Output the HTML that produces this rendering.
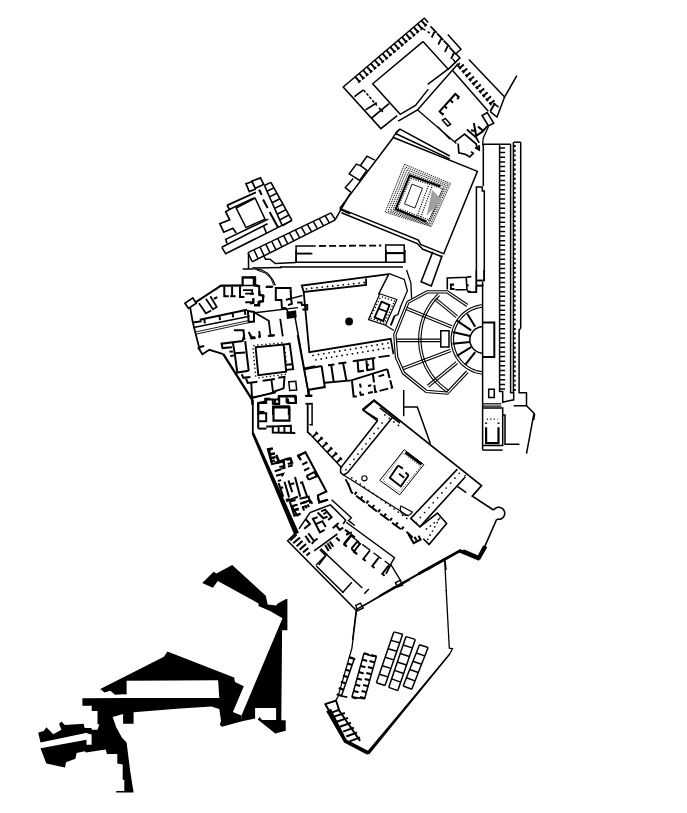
<!DOCTYPE html>
<html><head><meta charset="utf-8"><title>Plan</title>
<style>html,body{margin:0;padding:0;background:#fff;overflow:hidden}svg{display:block}</style>
</head><body>
<svg width="687" height="813" viewBox="0 0 687 813">
<rect width="687" height="813" fill="#fff"/>
<g stroke-linecap="butt" stroke-linejoin="miter">
<g fill="#000" stroke="none">
<path d="M202.2,582.9 L213.6,571.8 L216.4,573.6 L232.2,565.1 L265.8,595.8 L267.7,604.5 L276,605.4 L277.8,603.5 L286.1,598.9 L287.4,598.9 L287.4,630.3 L282.1,630.3 L281.3,720.3 L285.7,720.3 L285.7,730.8 L275.2,733.4 L257.7,719.5 L259.5,716.9 L262.1,720 L276.1,720 L276.1,708.1 L255.1,708.1 L255.1,718.6 L242,721.2 L241.5,715.5 L282.5,618.3 L270,611 L258.5,606 L258.5,603.5 L217.8,581 L212.9,587.8 Z"/>
<path fill-rule="evenodd" d="M167.4,651.6 L234.1,677.6 L235,681.9 L243.8,686.3 L232.9,712 L241.5,715.5 L242,721.2 L221.9,726.8 L219.8,724.7 L221,720.7 L219.3,709 L211.4,706.4 L180,708.5 L133.6,712.2 L133.6,723.8 L123.1,723.8 L123.1,714.1 L112.7,716.9 L116.2,727.3 L122,737.8 L126.6,742.5 L130.1,770.4 L133.6,792.5 L116.2,792.5 L116.2,790.9 L124.3,790.9 L124.3,779.7 L122.7,779.7 L122.7,764.6 L117.3,763.4 L117.3,754.1 L106.9,754.1 L105.7,749.5 L85.9,752.5 L84.7,751.3 L76.6,753 L75.4,758.8 L66.1,762.3 L64.9,767.6 L46.3,763.4 L40.5,748.3 L86.5,739.7 L86.5,744.8 L91.6,744.8 L91.6,734.4 L87.5,733.6 L87.1,732.7 L40.5,742.5 L38.2,732.7 L44,730.8 L46.3,727.3 L53.3,734.3 L61.4,729.7 L59.1,723.8 L61.4,721.5 L64.9,725 L83.6,723.8 L84.7,728 L91.7,728 L91.7,729.7 L97.5,729.7 L99.4,724.3 L97.5,724.3 L97.5,711 L91.7,711 L91.7,705.7 L82.4,705.7 L82.4,698.2 L126.6,698 L126.6,694 L115,694.7 L110.3,690.8 L104.5,692.4 L100.3,688.9 L163.9,656.8 Z M126.6,680.8 L218.1,680.3 L219.3,698 L126.6,698 Z"/>
</g>
<polyline points="424.7,17.7 343.2,87.0 380.9,128.6 397.2,115.6" fill="none" stroke="#000" stroke-width="1.50"/>
<polyline points="423.0,41.6 372.7,83.8 400.2,114.3 415.5,105.4 428.3,89.1" fill="none" stroke="#000" stroke-width="1.50"/>
<polyline points="423.0,41.6 448.1,69.1 427.7,84.4" fill="none" stroke="#000" stroke-width="1.50"/>
<polyline points="458.3,63.4 417.5,109.9 398.2,121.1" fill="none" stroke="#000" stroke-width="1.50"/>
<path d="M355.4,76.8 L359.4,81.6 M358.2,82.6 L360.6,80.5 M359.3,73.5 L363.3,78.3 M362.1,79.3 L364.5,77.2 M363.2,70.2 L367.2,75.0 M366.0,76.0 L368.4,73.9 M367.1,66.9 L371.1,71.6 M369.9,72.7 L372.3,70.6 M371.0,63.6 L375.0,68.3 M373.8,69.4 L376.2,67.3 M374.9,60.3 L378.9,65.0 M377.7,66.1 L380.1,64.0 M378.8,57.0 L382.8,61.7 M381.5,62.8 L384.0,60.7 M382.6,53.7 L386.7,58.4 M385.4,59.4 L387.9,57.4 M386.5,50.4 L390.6,55.1 M389.3,56.1 L391.8,54.1 M390.4,47.1 L394.5,51.8 M393.2,52.8 L395.7,50.8 M394.3,43.8 L398.4,48.5 M397.1,49.5 L399.6,47.4 M398.2,40.4 L402.2,45.2 M401.0,46.2 L403.5,44.1 M402.1,37.1 L406.1,41.9 M404.9,42.9 L407.4,40.8 M406.0,33.8 L410.0,38.6 M408.8,39.6 L411.3,37.5 M409.9,30.5 L413.9,35.2 M412.7,36.3 L415.2,34.2 M413.8,27.2 L417.8,31.9 M416.6,33.0 L419.0,30.9 M417.7,23.9 L421.7,28.6 M420.5,29.7 L422.9,27.6 M421.6,20.6 L425.6,25.3 M424.4,26.4 L426.8,24.3" fill="none" stroke="#000" stroke-width="1.90"/>
<polyline points="354.4,96.6 363.5,89.9" fill="none" stroke="#000" stroke-width="1.70"/>
<polyline points="363.5,89.9 376.8,105.4" fill="none" stroke="#000" stroke-width="1.50" stroke-dasharray="3,1.5"/>
<polyline points="365.6,109.9 376.8,102.7" fill="none" stroke="#000" stroke-width="1.70"/>
<polyline points="371.7,118.0 389.0,103.7" fill="none" stroke="#000" stroke-width="1.70"/>
<polyline points="378.8,107.8 382.9,111.9" fill="none" stroke="#000" stroke-width="1.50"/>
<polyline points="424.4,18.2 428.2,22.4" fill="none" stroke="#000" stroke-width="1.50"/>
<polyline points="422.8,28.9 425.4,30.1" fill="none" stroke="#000" stroke-width="1.50"/>
<polyline points="427.6,31.7 429.7,33.0" fill="none" stroke="#000" stroke-width="1.50"/>
<polyline points="430.5,26.3 436.8,32.9" fill="none" stroke="#000" stroke-width="1.80"/>
<polyline points="434.5,31.6 431.7,37.5" fill="none" stroke="#000" stroke-width="1.80"/>
<polyline points="437.1,33.4 443.4,40.1" fill="none" stroke="#000" stroke-width="1.80"/>
<polyline points="441.2,38.7 438.3,44.6" fill="none" stroke="#000" stroke-width="1.80"/>
<polyline points="443.7,40.6 450.0,47.2" fill="none" stroke="#000" stroke-width="1.80"/>
<polyline points="447.8,45.9 444.9,51.8" fill="none" stroke="#000" stroke-width="1.80"/>
<polyline points="449.8,47.7 456.1,54.3" fill="none" stroke="#000" stroke-width="1.80"/>
<polyline points="453.9,53.0 451.1,58.9" fill="none" stroke="#000" stroke-width="1.80"/>
<polyline points="447.8,34.5 461.0,49.2 455.9,53.8 460.0,57.9 447.8,69.6" fill="none" stroke="#000" stroke-width="1.50"/>
<polyline points="452.7,58.9 455.9,63.0" fill="none" stroke="#000" stroke-width="1.50"/>
<polyline points="468.9,59.4 504.6,97.1 516.8,75.7" fill="none" stroke="#000" stroke-width="1.50"/>
<polyline points="504.6,97.1 497.0,117.0 490.3,111.7" fill="none" stroke="#000" stroke-width="1.50"/>
<polyline points="452.6,70.6 488.3,111.3" fill="none" stroke="#000" stroke-width="1.50"/>
<polyline points="459.7,62.8 457.7,66.9" fill="none" stroke="#000" stroke-width="1.50"/>
<path d="M463.8,64.5 L459.8,67.9 M458.7,66.7 L460.8,69.1 M467.2,68.4 L463.2,71.9 M462.1,70.7 L464.2,73.1 M470.6,72.4 L466.6,75.9 M465.5,74.6 L467.6,77.1 M474.0,76.4 L470.0,79.8 M468.9,78.6 L471.0,81.1 M477.4,80.4 L473.4,83.8 M472.3,82.6 L474.4,85.1 M480.8,84.4 L476.8,87.8 M475.7,86.6 L477.8,89.0 M484.2,88.4 L480.2,91.8 M479.1,90.6 L481.2,93.0 M487.6,92.3 L483.6,95.8 M482.5,94.6 L484.6,97.0 M491.0,96.3 L487.0,99.8 M485.9,98.6 L488.0,101.0 M494.4,100.3 L490.3,103.8 M489.3,102.5 L491.4,105.0" fill="none" stroke="#000" stroke-width="2.00"/>
<polyline points="493.4,103.2 498.5,107.2" fill="none" stroke="#000" stroke-width="1.50"/>
<polyline points="443.6,113.2 442.5,114.4 439.6,111.4 455.3,94.0 458.8,96.9 457.3,99.2" fill="none" stroke="#000" stroke-width="2.00"/>
<polyline points="444.4,105.9 446.9,108.5" fill="none" stroke="#000" stroke-width="2.00"/>
<polyline points="450.0,99.8 452.9,102.7" fill="none" stroke="#000" stroke-width="2.00"/>
<polygon points="442.5,120.2 445.4,118.4 450.6,124.3 447.7,126.0" fill="none" stroke="#000" stroke-width="1.50"/>
<polygon points="482.1,115.5 487.3,112.6 493.7,123.1 488.5,126.0" fill="none" stroke="#000" stroke-width="1.60"/>
<polyline points="437.8,126.6 450.0,139.4" fill="none" stroke="#000" stroke-width="1.30"/>
<polyline points="417.4,109.7 456.4,143.5" fill="none" stroke="#000" stroke-width="1.30"/>
<polyline points="466.9,129.5 476.2,137.6 479.1,142.9" fill="none" stroke="#000" stroke-width="1.80"/>
<polyline points="473.9,123.1 476.2,135.9 483.2,131.2" fill="none" stroke="#000" stroke-width="2.00"/>
<polyline points="471.0,130.3 476.2,131.2" fill="none" stroke="#000" stroke-width="2.00"/>
<polyline points="478.0,126.6 483.2,130.7 487.9,125.6" fill="none" stroke="#000" stroke-width="2.00"/>
<polyline points="488.5,126.6 483.2,138.2 482.6,145.2" fill="none" stroke="#000" stroke-width="1.30"/>
<polyline points="454.7,141.7 464.6,134.1 476.2,144.0 477.4,148.7" fill="none" stroke="#000" stroke-width="1.70"/>
<polyline points="458.2,143.5 458.8,152.8 465.8,154.5 469.8,156.9 473.3,153.4 471.0,151.6" fill="none" stroke="#000" stroke-width="1.70"/>
<polyline points="475.1,147.5 479.1,149.9 479.1,145.2" fill="none" stroke="#000" stroke-width="1.90"/>
<polyline points="494.9,103.3 490.2,111.4" fill="none" stroke="#000" stroke-width="1.90"/>
<polyline points="483.3,186.1 483.3,144.2 510.8,144.2" fill="none" stroke="#000" stroke-width="1.50"/>
<polyline points="513.8,142.2 520.7,142.2" fill="none" stroke="#000" stroke-width="1.50"/>
<polyline points="476.4,289.9 476.4,187.0 482.3,187.0 482.3,191.0 484.3,191.0 484.3,280.5 476.4,280.5" fill="none" stroke="#000" stroke-width="1.50"/>
<polyline points="499.6,144.2 499.6,392.0" fill="none" stroke="#000" stroke-width="1.50"/>
<polyline points="510.6,144.2 510.6,393.0" fill="none" stroke="#000" stroke-width="1.50"/>
<polyline points="513.4,142.2 513.4,393.0" fill="none" stroke="#000" stroke-width="1.50"/>
<polyline points="520.7,142.2 520.7,328.5" fill="none" stroke="#000" stroke-width="1.50"/>
<path d="M499.6,148.0 L505.1,148.0 M499.6,152.6 L505.1,152.6 M499.6,157.3 L505.1,157.3 M499.6,161.9 L505.1,161.9 M499.6,166.5 L505.1,166.5 M499.6,171.2 L505.1,171.2 M499.6,175.8 L505.1,175.8 M499.6,180.4 L505.1,180.4 M499.6,185.1 L505.1,185.1 M499.6,189.7 L505.1,189.7 M499.6,194.3 L505.1,194.3 M499.6,199.0 L505.1,199.0 M499.6,203.6 L505.1,203.6 M499.6,208.2 L505.1,208.2 M499.6,212.9 L505.1,212.9 M499.6,217.5 L505.1,217.5 M499.6,222.2 L505.1,222.2 M499.6,226.8 L505.1,226.8 M499.6,231.4 L505.1,231.4 M499.6,236.1 L505.1,236.1 M499.6,240.7 L505.1,240.7 M499.6,245.3 L505.1,245.3 M499.6,250.0 L505.1,250.0 M499.6,254.6 L505.1,254.6 M499.6,259.2 L505.1,259.2 M499.6,263.9 L505.1,263.9 M499.6,268.5 L505.1,268.5 M499.6,273.1 L505.1,273.1 M499.6,277.8 L505.1,277.8 M499.6,282.4 L505.1,282.4 M499.6,287.0 L505.1,287.0 M499.6,291.7 L505.1,291.7 M499.6,296.3 L505.1,296.3 M499.6,300.9 L505.1,300.9 M499.6,305.6 L505.1,305.6 M499.6,310.2 L505.1,310.2 M499.6,314.8 L505.1,314.8 M499.6,319.5 L505.1,319.5 M499.6,324.1 L505.1,324.1 M499.6,328.8 L505.1,328.8 M499.6,333.4 L505.1,333.4 M499.6,338.0 L505.1,338.0 M499.6,342.7 L505.1,342.7 M499.6,347.3 L505.1,347.3 M499.6,351.9 L505.1,351.9 M499.6,356.6 L505.1,356.6 M499.6,361.2 L505.1,361.2 M499.6,365.8 L505.1,365.8 M499.6,370.5 L505.1,370.5 M499.6,375.1 L505.1,375.1 M499.6,379.7 L505.1,379.7 M499.6,384.4 L505.1,384.4 M499.6,389.0 L505.1,389.0" fill="none" stroke="#000" stroke-width="1.50"/>
<path d="M513.4,146.0 L515.7,146.0 M513.4,150.7 L515.7,150.7 M513.4,155.4 L515.7,155.4 M513.4,160.1 L515.7,160.1 M513.4,164.8 L515.7,164.8 M513.4,169.5 L515.7,169.5 M513.4,174.2 L515.7,174.2 M513.4,178.8 L515.7,178.8 M513.4,183.5 L515.7,183.5 M513.4,188.2 L515.7,188.2 M513.4,192.9 L515.7,192.9 M513.4,197.6 L515.7,197.6 M513.4,202.3 L515.7,202.3 M513.4,207.0 L515.7,207.0 M513.4,211.7 L515.7,211.7 M513.4,216.4 L515.7,216.4 M513.4,221.1 L515.7,221.1 M513.4,225.8 L515.7,225.8 M513.4,230.5 L515.7,230.5 M513.4,235.2 L515.7,235.2 M513.4,239.8 L515.7,239.8 M513.4,244.5 L515.7,244.5 M513.4,249.2 L515.7,249.2 M513.4,253.9 L515.7,253.9 M513.4,258.6 L515.7,258.6 M513.4,263.3 L515.7,263.3 M513.4,268.0 L515.7,268.0 M513.4,272.7 L515.7,272.7 M513.4,277.4 L515.7,277.4 M513.4,282.1 L515.7,282.1 M513.4,286.8 L515.7,286.8 M513.4,291.5 L515.7,291.5 M513.4,296.2 L515.7,296.2 M513.4,300.8 L515.7,300.8 M513.4,305.5 L515.7,305.5 M513.4,310.2 L515.7,310.2 M513.4,314.9 L515.7,314.9 M513.4,319.6 L515.7,319.6 M513.4,324.3 L515.7,324.3 M513.4,329.0 L515.7,329.0 M513.4,333.7 L515.7,333.7 M513.4,338.4 L515.7,338.4 M513.4,343.1 L515.7,343.1 M513.4,347.8 L515.7,347.8 M513.4,352.5 L515.7,352.5 M513.4,357.2 L515.7,357.2 M513.4,361.8 L515.7,361.8 M513.4,366.5 L515.7,366.5 M513.4,371.2 L515.7,371.2 M513.4,375.9 L515.7,375.9 M513.4,380.6 L515.7,380.6 M513.4,385.3 L515.7,385.3 M513.4,390.0 L515.7,390.0" fill="none" stroke="#000" stroke-width="1.90"/>
<polyline points="476.3,270.0 476.3,292.2 468.1,292.2" fill="none" stroke="#000" stroke-width="1.50"/>
<polyline points="484.0,270.0 484.0,280.5 476.3,280.5" fill="none" stroke="#000" stroke-width="1.50"/>
<polyline points="476.3,285.9 482.6,285.9" fill="none" stroke="#000" stroke-width="1.50"/>
<polyline points="482.6,281.7 482.6,450.1" fill="none" stroke="#000" stroke-width="1.50"/>
<polyline points="520.7,328.5 519.1,329.9 519.1,392.8 526.5,392.8 526.5,405.7 513.7,405.7" fill="none" stroke="#000" stroke-width="1.50"/>
<polyline points="526.5,405.7 534.0,413.2 526.5,453.6" fill="none" stroke="#000" stroke-width="1.50"/>
<polyline points="534.7,413.9 533.6,420.2" fill="none" stroke="#000" stroke-width="1.50"/>
<polyline points="499.6,391.6 502.7,391.6 502.7,402.2 513.7,399.8 513.7,392.8 510.2,392.8" fill="none" stroke="#000" stroke-width="1.50"/>
<polyline points="482.6,322.6 494.3,322.6 494.3,357.0 482.6,357.0" fill="none" stroke="#000" stroke-width="2.00"/>
<polygon points="488.7,389.3 494.3,389.3 494.3,397.5 488.7,397.5" fill="none" stroke="#000" stroke-width="1.50"/>
<polyline points="482.6,403.8 501.3,403.8" fill="none" stroke="#000" stroke-width="1.20"/>
<polyline points="482.6,406.1 501.3,406.1" fill="none" stroke="#000" stroke-width="1.20"/>
<polyline points="482.6,408.0 502.7,408.0 502.7,445.4 482.6,445.4" fill="none" stroke="#000" stroke-width="1.50"/>
<polyline points="486.1,427.2 486.1,443.1 498.5,443.1 498.5,427.2" fill="none" stroke="#000" stroke-width="2.20"/>
<polyline points="486.8,419.2 497.5,419.2" fill="none" stroke="#000" stroke-width="1.30" stroke-dasharray="1.2,2.2"/>
<polyline points="486.1,422.5 486.1,423.9" fill="none" stroke="#000" stroke-width="2.00"/>
<polyline points="498.5,422.5 498.5,423.9" fill="none" stroke="#000" stroke-width="2.00"/>
<polyline points="502.7,415.0 505.0,415.0 505.0,444.3 519.5,444.3" fill="none" stroke="#000" stroke-width="1.50"/>
<polyline points="482.6,450.1 502.7,450.1" fill="none" stroke="#000" stroke-width="1.50"/>
<polyline points="483.1,353.1 482.0,353.0 481.0,352.9 480.0,352.7 479.0,352.4 478.0,352.1 477.1,351.6 476.2,351.1 475.3,350.5 474.5,349.9 473.7,349.2 473.0,348.4 472.4,347.6 471.8,346.8 471.3,345.9 470.9,344.9 470.5,343.9 470.2,343.0 470.0,341.9 469.9,340.9 469.9,339.9 469.9,338.8 470.0,337.8 470.2,336.8 470.5,335.8 470.9,334.8 471.3,333.9 471.8,333.0 472.4,332.1 473.0,331.3 473.7,330.5 474.5,329.8 475.3,329.2 476.2,328.6 477.1,328.1 478.0,327.7 479.0,327.3 480.0,327.0 481.0,326.8 482.0,326.7 483.1,326.7" fill="none" stroke="#000" stroke-width="1.50"/>
<polyline points="482.4,374.2 479.8,373.8 477.3,373.3 474.9,372.5 472.5,371.6 470.2,370.6 467.9,369.3 465.8,367.9 463.8,366.3 461.8,364.6 460.1,362.8 458.4,360.8 456.9,358.8 455.6,356.6 454.4,354.3 453.4,352.0 452.6,349.5 451.9,347.1 451.5,344.5 451.2,342.0 451.1,339.4 451.2,336.9 451.5,334.3 451.9,331.8 452.6,329.3 453.4,326.9 454.4,324.6 455.6,322.3 456.9,320.1 458.4,318.0 460.1,316.1 461.8,314.2 463.8,312.5 465.8,311.0 467.9,309.6 470.2,308.3 472.5,307.2 474.9,306.3 477.3,305.6 479.8,305.0 482.4,304.7" fill="none" stroke="#000" stroke-width="1.15"/>
<polyline points="482.6,371.7 480.3,371.4 477.9,370.9 475.7,370.2 473.4,369.4 471.3,368.4 469.2,367.2 467.2,365.9 465.3,364.5 463.5,362.9 461.9,361.2 460.4,359.3 459.0,357.4 457.7,355.4 456.6,353.3 455.7,351.1 454.9,348.8 454.3,346.5 453.9,344.2 453.6,341.8 453.5,339.4 453.6,337.1 453.9,334.7 454.3,332.3 454.9,330.0 455.7,327.8 456.6,325.6 457.7,323.5 459.0,321.5 460.4,319.5 461.9,317.7 463.5,316.0 465.3,314.4 467.2,312.9 469.2,311.6 471.3,310.5 473.4,309.5 475.7,308.6 477.9,308.0 480.3,307.5 482.6,307.1" fill="none" stroke="#000" stroke-width="1.15"/>
<polyline points="447.4,392.4 445.0,390.8 442.8,389.1 440.6,387.3 438.5,385.4 436.4,383.4 434.5,381.3 432.7,379.1 430.9,376.9 429.3,374.5 427.8,372.1 426.4,369.7 425.1,367.2 423.9,364.6 422.8,362.0 421.8,359.3 421.0,356.6 420.3,353.8 419.7,351.0 419.2,348.2 418.9,345.4 418.7,342.6 418.6,339.7 418.7,336.9 418.8,334.1 419.1,331.2 419.6,328.4 420.1,325.6 420.8,322.9 421.6,320.1 422.5,317.5 423.6,314.8 424.7,312.2 426.0,309.7 427.4,307.2 428.9,304.8 430.5,302.4 432.2,300.2 434.0,298.0 435.9,295.9 437.9,293.9" fill="none" stroke="#000" stroke-width="1.10"/>
<polyline points="448.7,390.3 446.5,388.8 444.3,387.1 442.2,385.4 440.1,383.6 438.2,381.7 436.3,379.7 434.6,377.6 432.9,375.4 431.3,373.2 429.9,370.9 428.5,368.5 427.2,366.1 426.1,363.6 425.1,361.1 424.1,358.5 423.3,355.9 422.7,353.3 422.1,350.6 421.7,347.9 421.3,345.2 421.1,342.4 421.0,339.7 421.1,337.0 421.3,334.3 421.6,331.5 422.0,328.8 422.5,326.2 423.1,323.5 423.9,320.9 424.8,318.3 425.8,315.8 426.9,313.3 428.2,310.8 429.5,308.4 430.9,306.1 432.5,303.9 434.1,301.7 435.9,299.6 437.7,297.6 439.6,295.6" fill="none" stroke="#000" stroke-width="1.10"/>
<polyline points="466.7,306.5 446.9,293.0 427.5,293.0 408.8,303.1 396.0,334.8 397.8,357.0 404.5,372.3 426.7,390.3 446.8,392.0 466.5,371.0" fill="none" stroke="#000" stroke-width="1.10"/><polyline points="468.0,304.5 447.6,290.7 426.9,290.7 407.1,301.5 393.7,334.4 395.4,357.6 402.6,373.8 425.8,392.5 447.7,394.3 468.2,372.7" fill="none" stroke="#000" stroke-width="1.10"/>
<polyline points="396.6,339.1 440.3,339.1" fill="none" stroke="#000" stroke-width="1.10"/><polyline points="396.6,341.6 440.3,341.6" fill="none" stroke="#000" stroke-width="1.10"/>
<polyline points="406.7,307.3 452.1,325.7" fill="none" stroke="#000" stroke-width="1.10"/><polyline points="405.8,309.5 451.2,327.9" fill="none" stroke="#000" stroke-width="1.10"/>
<polyline points="435.8,297.9 457.6,315.9" fill="none" stroke="#000" stroke-width="1.10"/><polyline points="434.3,299.7 456.1,317.7" fill="none" stroke="#000" stroke-width="1.10"/>
<polyline points="402.3,367.6 450.3,349.2" fill="none" stroke="#000" stroke-width="1.10"/><polyline points="403.1,369.8 451.2,351.5" fill="none" stroke="#000" stroke-width="1.10"/>
<polyline points="427.3,385.2 456.1,361.6" fill="none" stroke="#000" stroke-width="1.10"/><polyline points="428.8,387.1 457.6,363.5" fill="none" stroke="#000" stroke-width="1.10"/>
<polygon points="440.8,330.8 449.0,330.8 449.0,346.9 440.8,346.9" fill="none" stroke="#000" stroke-width="1.50"/>
<polyline points="475.2,326.8 467.3,313.7" fill="none" stroke="#000" stroke-width="2.00"/>
<polyline points="471.2,330.3 456.9,320.7" fill="none" stroke="#000" stroke-width="2.00"/>
<polyline points="470.0,336.0 452.5,332.0" fill="none" stroke="#000" stroke-width="2.00"/>
<polyline points="470.0,342.0 452.5,343.7" fill="none" stroke="#000" stroke-width="2.00"/>
<polyline points="471.2,347.2 456.9,355.9" fill="none" stroke="#000" stroke-width="2.00"/>
<polyline points="475.2,352.1 465.6,364.3" fill="none" stroke="#000" stroke-width="2.00"/>
<polyline points="296.1,250.0 296.1,262.3 404.9,262.3 404.9,250.0" fill="none" stroke="#000" stroke-width="1.50"/>
<polyline points="280.0,267.0 403.0,267.0" fill="none" stroke="#000" stroke-width="1.50"/>
<polyline points="297.0,253.4 311.2,253.4" fill="none" stroke="#000" stroke-width="1.50"/>
<polyline points="386.0,253.4 404.9,253.4" fill="none" stroke="#000" stroke-width="1.50"/>
<polyline points="386.0,250.0 386.0,262.3" fill="none" stroke="#000" stroke-width="1.50"/>
<polyline points="366.1,278.4 366.1,285.0 303.7,292.0 301.8,285.6 388.8,274.2" fill="none" stroke="#000" stroke-width="1.80"/>
<polyline points="388.6,273.3 404.3,279.4 407.4,290.8 400.8,306.0 397.8,314.8 394.7,315.7" fill="none" stroke="#000" stroke-width="1.30"/>
<polyline points="394.7,315.7 390.8,325.3" fill="none" stroke="#000" stroke-width="1.90"/>
<polyline points="388.8,274.2 378.4,294.5" fill="none" stroke="#000" stroke-width="1.50"/>
<polyline points="303.7,292.0 309.3,352.2 390.7,338.9 393.5,354.1" fill="none" stroke="#000" stroke-width="1.80"/>
<g fill="#000"><circle cx="306.5" cy="288.8" r="0.90"/><circle cx="311.7" cy="288.2" r="0.90"/><circle cx="317.0" cy="287.7" r="0.90"/><circle cx="322.2" cy="287.1" r="0.90"/><circle cx="327.5" cy="286.5" r="0.90"/><circle cx="332.7" cy="286.0" r="0.90"/><circle cx="338.0" cy="285.4" r="0.90"/><circle cx="343.2" cy="284.8" r="0.90"/><circle cx="348.5" cy="284.3" r="0.90"/><circle cx="353.7" cy="283.7" r="0.90"/><circle cx="359.0" cy="283.1" r="0.90"/><circle cx="364.2" cy="282.5" r="0.90"/></g>
<g fill="#000"><circle cx="313.1" cy="355.4" r="0.90"/><circle cx="318.5" cy="354.5" r="0.90"/><circle cx="323.8" cy="353.6" r="0.90"/><circle cx="329.1" cy="352.8" r="0.90"/><circle cx="334.5" cy="351.9" r="0.90"/><circle cx="339.8" cy="351.0" r="0.90"/><circle cx="345.1" cy="350.1" r="0.90"/><circle cx="350.5" cy="349.3" r="0.90"/><circle cx="355.8" cy="348.4" r="0.90"/><circle cx="361.2" cy="347.5" r="0.90"/><circle cx="366.5" cy="346.6" r="0.90"/><circle cx="371.8" cy="345.7" r="0.90"/><circle cx="377.2" cy="344.9" r="0.90"/><circle cx="382.5" cy="344.0" r="0.90"/><circle cx="387.9" cy="343.1" r="0.90"/></g>
<g fill="#000"><circle cx="316.0" cy="359.8" r="0.90"/><circle cx="321.2" cy="358.9" r="0.90"/><circle cx="326.4" cy="358.0" r="0.90"/><circle cx="331.6" cy="357.2" r="0.90"/><circle cx="336.8" cy="356.3" r="0.90"/><circle cx="342.0" cy="355.5" r="0.90"/><circle cx="347.2" cy="354.6" r="0.90"/><circle cx="352.4" cy="353.8" r="0.90"/><circle cx="357.6" cy="352.9" r="0.90"/><circle cx="362.8" cy="352.1" r="0.90"/><circle cx="368.0" cy="351.2" r="0.90"/><circle cx="373.2" cy="350.4" r="0.90"/><circle cx="378.4" cy="349.5" r="0.90"/><circle cx="383.6" cy="348.7" r="0.90"/><circle cx="388.8" cy="347.8" r="0.90"/></g>
<circle cx="349.1" cy="321.5" r="3.9" fill="#000"/>
<polygon points="379.8,293.8 396.9,299.5 385.5,325.3 368.5,319.6" fill="none" stroke="#000" stroke-width="1.20"/>
<polygon points="381.6,301.7 389.5,305.0 383.3,320.9 374.6,317.4" fill="none" stroke="#000" stroke-width="1.90"/>
<polyline points="379.0,308.7 386.4,311.5" fill="none" stroke="#000" stroke-width="1.70"/>
<g fill="#000"><circle cx="382.5" cy="296.9" r="0.75"/><circle cx="385.4" cy="297.9" r="0.75"/><circle cx="388.4" cy="298.9" r="0.75"/><circle cx="391.3" cy="300.0" r="0.75"/><circle cx="394.3" cy="301.0" r="0.75"/></g>
<g fill="#000"><circle cx="371.1" cy="318.4" r="0.75"/><circle cx="374.3" cy="319.6" r="0.75"/><circle cx="377.4" cy="320.8" r="0.75"/><circle cx="380.6" cy="321.9" r="0.75"/><circle cx="383.8" cy="323.1" r="0.75"/></g>
<g fill="#000"><circle cx="379.8" cy="298.6" r="0.75"/><circle cx="378.3" cy="301.6" r="0.75"/><circle cx="376.8" cy="304.6" r="0.75"/><circle cx="375.3" cy="307.6" r="0.75"/><circle cx="373.7" cy="310.6" r="0.75"/><circle cx="372.2" cy="313.5" r="0.75"/><circle cx="370.7" cy="316.5" r="0.75"/></g>
<g fill="#000"><circle cx="393.4" cy="303.4" r="0.75"/><circle cx="392.1" cy="306.3" r="0.75"/><circle cx="390.8" cy="309.3" r="0.75"/><circle cx="389.5" cy="312.2" r="0.75"/><circle cx="388.1" cy="315.1" r="0.75"/><circle cx="386.8" cy="318.0" r="0.75"/><circle cx="385.5" cy="320.9" r="0.75"/></g>
<polyline points="385.5,325.3 393.8,330.5" fill="none" stroke="#000" stroke-width="1.20"/>
<polyline points="294.2,312.4 308.4,391.9" fill="none" stroke="#000" stroke-width="1.50"/>
<polyline points="304.0,369.2 321.6,366.0" fill="none" stroke="#000" stroke-width="2.00"/>
<polyline points="328.0,365.2 334.4,364.4" fill="none" stroke="#000" stroke-width="2.00"/>
<polyline points="338.4,363.6 346.4,362.5" fill="none" stroke="#000" stroke-width="2.00"/>
<polyline points="352.8,361.2 375.3,358.0" fill="none" stroke="#000" stroke-width="2.00"/>
<polyline points="378.5,357.2 389.7,355.6" fill="none" stroke="#000" stroke-width="1.80"/>
<polyline points="307.2,390.0 324.8,387.1 321.6,366.0" fill="none" stroke="#000" stroke-width="2.00"/>
<polyline points="324.8,382.8 351.2,380.4 387.3,369.2" fill="none" stroke="#000" stroke-width="1.90"/>
<polyline points="387.3,369.2 392.1,387.6 375.3,392.0 372.9,374.0" fill="none" stroke="#000" stroke-width="2.00" stroke-dasharray="9,2.5"/>
<polyline points="331.2,365.2 333.6,381.2" fill="none" stroke="#000" stroke-width="2.00"/>
<polyline points="343.2,363.6 346.4,380.4" fill="none" stroke="#000" stroke-width="2.00"/>
<polyline points="357.6,361.2 358.4,371.6 364.0,370.8" fill="none" stroke="#000" stroke-width="2.00"/>
<polyline points="366.4,360.4 367.2,370.0 372.9,369.2" fill="none" stroke="#000" stroke-width="2.00"/>
<polyline points="372.9,358.8 373.7,370.0" fill="none" stroke="#000" stroke-width="2.00"/>
<polyline points="366.4,365.2 368.9,364.7" fill="none" stroke="#000" stroke-width="2.00"/>
<polyline points="352.0,381.2 353.6,396.4 356.8,396.4" fill="none" stroke="#000" stroke-width="2.00"/>
<polyline points="360.0,383.6 360.8,387.6" fill="none" stroke="#000" stroke-width="2.00"/>
<polyline points="360.0,391.6 360.8,394.8 364.0,394.5" fill="none" stroke="#000" stroke-width="2.00"/>
<polyline points="368.0,386.0 371.3,385.2" fill="none" stroke="#000" stroke-width="2.00"/>
<polyline points="368.0,392.9 372.9,392.0" fill="none" stroke="#000" stroke-width="2.00"/>
<polyline points="378.5,376.4 384.1,374.8" fill="none" stroke="#000" stroke-width="2.00"/>
<polyline points="308.8,390.0 308.8,395.6" fill="none" stroke="#000" stroke-width="1.80"/>
<polyline points="305.6,396.0 312.0,396.0" fill="none" stroke="#000" stroke-width="2.00"/>
<polyline points="339.8,208.4 393.3,137.5 477.4,171.3 443.5,254.3" fill="none" stroke="#000" stroke-width="1.50"/>
<polyline points="339.8,208.4 418.4,240.1 420.6,244.5 443.5,253.6" fill="none" stroke="#000" stroke-width="1.50"/>
<polyline points="341.4,212.8 417.3,243.6 422.8,249.3 441.4,256.5" fill="none" stroke="#000" stroke-width="1.50"/>
<polyline points="395.5,133.5 399.9,129.2 449.7,156.0" fill="none" stroke="#000" stroke-width="1.50"/>
<polyline points="395.5,133.5 449.7,158.9" fill="none" stroke="#000" stroke-width="1.50"/>
<polygon points="404.5,164.3 450.5,183.5 431.2,226.6 385.2,212.1" fill="none" stroke="#000" stroke-width="0.90" stroke-dasharray="1.4,0.8"/>
<polygon points="405.8,167.1 448.3,184.4 430.1,225.3 387.9,211.3" fill="none" stroke="#000" stroke-width="0.90" stroke-dasharray="1.4,0.8"/>
<polygon points="407.1,169.8 446.1,185.3 428.9,224.0 390.5,210.6" fill="none" stroke="#000" stroke-width="0.90" stroke-dasharray="1.4,0.8"/>
<polygon points="408.4,172.6 443.9,186.1 427.7,222.7 393.1,209.9" fill="none" stroke="#000" stroke-width="0.90" stroke-dasharray="1.4,0.8"/>
<polyline points="440.6,186.4 409.7,175.4 395.7,209.1 426.6,221.4" fill="none" stroke="#000" stroke-width="2.10"/>
<polygon points="410.9,178.3 442.9,188.8 430.1,220.2 397.5,208.0" fill="none" stroke="#000" stroke-width="1.10" stroke-dasharray="1.1,1.3"/>
<polyline points="428.3,185.9 417.3,215.6" fill="none" stroke="#000" stroke-width="1.20" stroke-dasharray="1.1,1.3"/>
<polyline points="431.8,187.0 420.8,217.3" fill="none" stroke="#000" stroke-width="1.20" stroke-dasharray="1.1,1.3"/>
<polygon points="412.0,184.1 422.5,188.2 414.9,208.0 404.5,203.9" fill="none" stroke="#000" stroke-width="0.90"/>
<polygon points="432.1,189.9 442.3,199.8 426.6,215.6" fill="#a0a0a0"/>
<polyline points="319.1,246.0 381.3,245.5" fill="none" stroke="#000" stroke-width="1.80" stroke-dasharray="7,3"/>
<polyline points="385.7,261.9 385.7,244.9 404.2,244.9 404.2,261.9" fill="none" stroke="#000" stroke-width="1.50"/>
<polyline points="385.7,252.8 404.2,252.8" fill="none" stroke="#000" stroke-width="1.50"/>
<polyline points="248.0,252.6 331.0,212.9" fill="none" stroke="#000" stroke-width="1.50"/>
<polyline points="252.2,261.8 335.4,219.9" fill="none" stroke="#000" stroke-width="1.50"/>
<polyline points="248.0,252.6 252.2,261.8" fill="none" stroke="#000" stroke-width="1.50"/>
<polyline points="254.0,249.8 258.1,258.8" fill="none" stroke="#000" stroke-width="1.50"/>
<polyline points="259.9,246.9 264.1,255.8" fill="none" stroke="#000" stroke-width="1.50"/>
<polyline points="265.8,244.1 270.0,252.8" fill="none" stroke="#000" stroke-width="1.50"/>
<polyline points="271.7,241.3 276.0,249.8" fill="none" stroke="#000" stroke-width="1.50"/>
<polyline points="277.7,238.4 281.9,246.8" fill="none" stroke="#000" stroke-width="1.50"/>
<polyline points="283.6,235.6 287.8,243.8" fill="none" stroke="#000" stroke-width="1.50"/>
<polyline points="289.5,232.8 293.8,240.8" fill="none" stroke="#000" stroke-width="1.50"/>
<polyline points="295.4,229.9 299.7,237.8" fill="none" stroke="#000" stroke-width="1.50"/>
<polyline points="301.4,227.1 305.7,234.8" fill="none" stroke="#000" stroke-width="1.50"/>
<polyline points="307.3,224.2 311.6,231.8" fill="none" stroke="#000" stroke-width="1.50"/>
<polyline points="313.2,221.4 317.5,228.9" fill="none" stroke="#000" stroke-width="1.50"/>
<polyline points="319.2,218.6 323.5,225.9" fill="none" stroke="#000" stroke-width="1.50"/>
<polyline points="325.1,215.7 329.4,222.9" fill="none" stroke="#000" stroke-width="1.50"/>
<polyline points="331.0,212.9 335.4,219.9" fill="none" stroke="#000" stroke-width="1.50"/>
<polyline points="335.4,219.4 350.0,193.7" fill="none" stroke="#000" stroke-width="1.50"/>
<polyline points="339.7,209.4 350.0,213.8" fill="none" stroke="#000" stroke-width="1.50"/>
<polyline points="221.8,247.3 225.7,253.8 291.9,220.4" fill="none" stroke="#000" stroke-width="1.60"/>
<polyline points="221.8,247.3 267.6,223.7" fill="none" stroke="#000" stroke-width="1.60"/>
<polyline points="263.7,226.3 266.3,232.9" fill="none" stroke="#000" stroke-width="1.60"/>
<polyline points="227.0,243.4 225.7,239.4 268.3,219.1" fill="none" stroke="#000" stroke-width="1.60"/>
<polyline points="227.0,205.4 229.7,209.3 225.7,211.9 229.7,219.8 219.8,223.7 223.8,232.2 232.9,228.3 236.2,233.1" fill="none" stroke="#000" stroke-width="1.70"/>
<polyline points="227.0,205.4 255.9,192.3" fill="none" stroke="#000" stroke-width="1.90"/>
<polyline points="229.7,209.3 254.5,197.8" fill="none" stroke="#000" stroke-width="1.50"/>
<polygon points="236.2,208.0 255.2,198.2 265.0,219.1 246.0,227.6" fill="none" stroke="#000" stroke-width="1.50"/>
<polygon points="251.9,181.1 260.4,177.9 263.7,184.4 255.2,188.3" fill="none" stroke="#000" stroke-width="1.70"/>
<polyline points="251.9,181.8 246.0,183.8 249.3,191.6 255.9,189.0" fill="none" stroke="#000" stroke-width="1.70"/>
<polyline points="264.4,185.5 282.3,225.7" fill="none" stroke="#000" stroke-width="1.60"/>
<polyline points="270.9,182.4 291.9,220.4" fill="none" stroke="#000" stroke-width="1.60"/>
<polyline points="264.4,185.5 270.9,182.4" fill="none" stroke="#000" stroke-width="1.60"/>
<polyline points="266.9,191.2 273.9,187.9" fill="none" stroke="#000" stroke-width="1.60"/>
<polyline points="269.5,196.9 276.9,193.3" fill="none" stroke="#000" stroke-width="1.60"/>
<polyline points="272.1,202.7 279.9,198.7" fill="none" stroke="#000" stroke-width="1.60"/>
<polyline points="274.6,208.4 282.9,204.2" fill="none" stroke="#000" stroke-width="1.60"/>
<polyline points="277.2,214.2 285.9,209.6" fill="none" stroke="#000" stroke-width="1.60"/>
<polyline points="279.8,219.9 288.9,215.0" fill="none" stroke="#000" stroke-width="1.60"/>
<polyline points="282.3,225.7 291.9,220.4" fill="none" stroke="#000" stroke-width="1.60"/>
<polyline points="259.1,189.7 261.7,194.9" fill="none" stroke="#000" stroke-width="2.00"/>
<polyline points="263.1,199.5 267.6,208.0" fill="none" stroke="#000" stroke-width="2.00"/>
<polyline points="269.6,211.9 278.1,227.6" fill="none" stroke="#000" stroke-width="2.00"/>
<polyline points="248.5,252.6 248.5,269.0" fill="none" stroke="#000" stroke-width="1.50"/>
<polyline points="242.6,269.0 253.5,269.0" fill="none" stroke="#000" stroke-width="1.50"/>
<polyline points="263.3,254.8 265.5,259.2 269.9,259.2 275.3,263.5 296.1,262.4" fill="none" stroke="#000" stroke-width="1.50"/>
<polyline points="315.7,246.1 296.1,246.1 296.1,262.4" fill="none" stroke="#000" stroke-width="1.50"/>
<polyline points="296.1,253.7 312.4,253.7" fill="none" stroke="#000" stroke-width="1.50"/>
<polyline points="252.4,267.9 281.9,267.5" fill="none" stroke="#000" stroke-width="1.50"/>
<polyline points="242.6,285.4 242.6,277.7 253.5,277.7 253.5,285.4" fill="none" stroke="#000" stroke-width="1.50"/>
<polyline points="215.3,290.0 220.7,285.4 254.6,285.4" fill="none" stroke="#000" stroke-width="1.50"/>
<polyline points="265.5,287.1 272.1,287.1" fill="none" stroke="#000" stroke-width="1.50"/>
<polygon points="185.0,303.2 192.8,297.9 196.3,303.2 188.5,308.4" fill="none" stroke="#000" stroke-width="1.70"/>
<polyline points="195.5,302.3 220.8,285.7 242.6,285.4" fill="none" stroke="#000" stroke-width="2.00"/>
<polyline points="190.2,307.6 192.8,322.4 196.3,336.4 199.8,350.0" fill="none" stroke="#000" stroke-width="1.80"/>
<polyline points="242.6,285.7 242.6,277.3 254.9,277.3 254.9,285.7 259.2,286.6 259.2,294.5 263.6,296.2 262.7,301.4 258.3,302.3 258.3,304.9 254.0,304.9" fill="none" stroke="#000" stroke-width="1.90"/>
<polyline points="224.3,286.6 224.3,296.2 228.7,296.2" fill="none" stroke="#000" stroke-width="2.00"/>
<polyline points="232.1,286.6 232.1,295.9" fill="none" stroke="#000" stroke-width="2.00"/>
<polyline points="230.1,296.2 235.6,296.2" fill="none" stroke="#000" stroke-width="2.00"/>
<polyline points="240.0,286.6 240.0,297.1 244.4,297.1" fill="none" stroke="#000" stroke-width="2.00"/>
<polyline points="243.0,290.1 252.2,290.1 252.2,293.6 245.2,293.6" fill="none" stroke="#000" stroke-width="1.80"/>
<polyline points="245.2,302.3 253.1,302.3 253.1,298.8" fill="none" stroke="#000" stroke-width="2.00"/>
<polyline points="266.2,286.6 273.2,286.6" fill="none" stroke="#000" stroke-width="2.00"/>
<polyline points="199.0,303.2 205.9,313.3 211.2,310.5" fill="none" stroke="#000" stroke-width="1.70"/>
<polyline points="205.9,298.8 212.9,309.3 216.8,307.0 210.3,296.2" fill="none" stroke="#000" stroke-width="1.70"/>
<polyline points="213.8,298.8 217.3,297.1" fill="none" stroke="#000" stroke-width="2.00"/>
<polyline points="199.8,319.8 247.0,309.8" fill="none" stroke="#000" stroke-width="1.90"/>
<polyline points="204.2,318.9 204.9,323.3" fill="none" stroke="#000" stroke-width="2.00"/>
<polyline points="219.4,315.8 220.1,320.1" fill="none" stroke="#000" stroke-width="2.00"/>
<polyline points="232.5,313.0 233.2,317.3" fill="none" stroke="#000" stroke-width="2.00"/>
<polyline points="244.7,310.5 245.4,314.9" fill="none" stroke="#000" stroke-width="2.00"/>
<polyline points="192.8,322.4 201.6,321.2" fill="none" stroke="#000" stroke-width="2.00"/>
<polyline points="193.7,327.6 249.6,316.3" fill="none" stroke="#000" stroke-width="1.50"/>
<polyline points="195.5,332.0 247.9,320.7" fill="none" stroke="#000" stroke-width="0.90"/>
<polyline points="196.3,334.1 248.7,322.6" fill="none" stroke="#000" stroke-width="0.90"/>
<polygon points="247.9,311.0 254.0,311.9 254.0,321.5 248.7,322.1" fill="none" stroke="#000" stroke-width="2.00"/>
<polyline points="254.9,312.8 298.0,307.6" fill="none" stroke="#000" stroke-width="1.40"/>
<polyline points="254.9,312.8 268.8,320.7 270.6,335.5 273.7,335.5" fill="none" stroke="#000" stroke-width="1.80"/>
<polyline points="280.2,318.9 282.8,336.4" fill="none" stroke="#000" stroke-width="1.80"/>
<polyline points="233.9,330.3 243.5,330.3 244.4,339.9" fill="none" stroke="#000" stroke-width="2.00"/>
<polyline points="248.7,332.0 251.4,337.2 255.2,337.2" fill="none" stroke="#000" stroke-width="2.00"/>
<polyline points="259.2,331.1 260.1,337.2" fill="none" stroke="#000" stroke-width="2.00"/>
<polyline points="199.8,346.9 204.2,346.0" fill="none" stroke="#000" stroke-width="2.00"/>
<polyline points="198.0,347.2 202.4,354.2 209.4,349.8 223.3,354.2" fill="none" stroke="#000" stroke-width="1.80"/>
<polyline points="223.3,354.2 252.1,399.6 252.5,404.9" fill="none" stroke="#000" stroke-width="2.30"/>
<polyline points="244.3,335.0 242.5,341.1 221.6,343.7 222.5,348.1 232.1,347.2" fill="none" stroke="#000" stroke-width="2.00"/>
<polyline points="232.9,342.9 234.7,353.3 245.2,352.5" fill="none" stroke="#000" stroke-width="2.00"/>
<polyline points="229.4,351.6 232.9,351.6" fill="none" stroke="#000" stroke-width="2.00"/>
<polyline points="230.3,356.0 233.8,355.6" fill="none" stroke="#000" stroke-width="2.00"/>
<polyline points="234.7,353.3 237.3,372.6 248.7,370.8" fill="none" stroke="#000" stroke-width="2.00"/>
<polyline points="245.2,341.1 248.7,370.8" fill="none" stroke="#000" stroke-width="2.00"/>
<polyline points="241.7,374.3 243.4,377.8 250.4,376.9" fill="none" stroke="#000" stroke-width="2.00"/>
<polyline points="246.0,378.7 247.8,383.0 257.4,381.8" fill="none" stroke="#000" stroke-width="2.00"/>
<polygon points="255.6,347.2 283.6,344.6 286.2,371.7 258.3,375.2" fill="none" stroke="#000" stroke-width="1.90"/>
<g fill="#000"><circle cx="253.9" cy="345.5" r="0.80"/><circle cx="257.9" cy="345.1" r="0.80"/><circle cx="261.9" cy="344.7" r="0.80"/><circle cx="265.9" cy="344.4" r="0.80"/><circle cx="269.9" cy="344.0" r="0.80"/><circle cx="273.9" cy="343.6" r="0.80"/><circle cx="277.9" cy="343.2" r="0.80"/><circle cx="281.8" cy="342.9" r="0.80"/></g>
<g fill="#000"><circle cx="253.0" cy="349.0" r="0.80"/><circle cx="253.4" cy="352.8" r="0.80"/><circle cx="253.8" cy="356.7" r="0.80"/><circle cx="254.1" cy="360.6" r="0.80"/><circle cx="254.5" cy="364.4" r="0.80"/><circle cx="254.9" cy="368.3" r="0.80"/><circle cx="255.3" cy="372.2" r="0.80"/><circle cx="255.6" cy="376.0" r="0.80"/></g>
<g fill="#000"><circle cx="259.1" cy="377.8" r="0.80"/><circle cx="262.9" cy="377.3" r="0.80"/><circle cx="266.6" cy="376.8" r="0.80"/><circle cx="270.4" cy="376.3" r="0.80"/><circle cx="274.1" cy="375.8" r="0.80"/><circle cx="277.9" cy="375.3" r="0.80"/><circle cx="281.6" cy="374.8" r="0.80"/><circle cx="285.3" cy="374.3" r="0.80"/></g>
<g fill="#000"><circle cx="284.8" cy="348.1" r="0.80"/><circle cx="285.3" cy="352.5" r="0.80"/><circle cx="285.7" cy="356.8" r="0.80"/><circle cx="286.2" cy="361.2" r="0.80"/></g>
<polyline points="283.6,344.6 289.7,343.7 293.2,369.1 286.2,369.9" fill="none" stroke="#000" stroke-width="1.90"/>
<polyline points="285.3,364.7 292.3,364.2" fill="none" stroke="#000" stroke-width="1.90"/>
<polyline points="250.4,335.0 251.3,338.5 255.6,338.1" fill="none" stroke="#000" stroke-width="2.00"/>
<polyline points="259.1,335.0 259.5,338.1" fill="none" stroke="#000" stroke-width="2.00"/>
<polyline points="267.9,335.9 274.9,335.3" fill="none" stroke="#000" stroke-width="2.00"/>
<polyline points="251.3,383.0 252.1,399.6" fill="none" stroke="#000" stroke-width="1.90"/>
<polyline points="262.6,380.8 271.4,379.5 273.1,392.6 253.0,397.9" fill="none" stroke="#000" stroke-width="1.90"/>
<polyline points="271.4,379.5 274.9,379.0" fill="none" stroke="#000" stroke-width="1.90"/>
<polyline points="278.3,377.8 284.5,376.9 283.6,388.3 273.1,391.8" fill="none" stroke="#000" stroke-width="1.90"/>
<polygon points="288.8,381.8 295.8,381.3 296.7,390.0 289.7,390.5" fill="none" stroke="#000" stroke-width="1.50"/>
<polyline points="297.6,335.0 308.9,395.3" fill="none" stroke="#000" stroke-width="1.70"/>
<polyline points="308.0,390.9 308.9,395.3" fill="none" stroke="#000" stroke-width="1.70"/>
<polyline points="305.4,395.8 312.4,395.3" fill="none" stroke="#000" stroke-width="1.70"/>
<polyline points="258.3,415.0 258.3,403.1 265.2,401.4 265.2,398.8 270.5,398.8" fill="none" stroke="#000" stroke-width="2.00"/>
<polyline points="274.9,399.6 274.9,404.0 279.2,404.0 279.2,396.1 294.9,395.8 295.8,403.1 288.0,403.1 288.0,398.8" fill="none" stroke="#000" stroke-width="2.00"/>
<polyline points="273.1,415.0 273.1,406.6 288.8,406.3 288.8,415.0" fill="none" stroke="#000" stroke-width="2.00"/>
<polyline points="258.3,411.9 264.4,411.9" fill="none" stroke="#000" stroke-width="2.00"/>
<polyline points="252.8,399.8 252.8,434.0" fill="none" stroke="#000" stroke-width="1.80"/>
<polygon points="251.6,433.6 294.2,534.7 299.0,532.7 254.0,432.6" fill="#000"/>
<polyline points="258.2,428.6 258.2,403.1 266.2,403.1 266.2,399.5 278.6,399.5 278.6,396.6 296.0,396.6 296.0,403.4" fill="none" stroke="#000" stroke-width="2.00"/>
<polyline points="258.2,428.6 266.5,428.6" fill="none" stroke="#000" stroke-width="2.00"/>
<polyline points="266.2,426.4 272.8,426.4 272.8,432.5 295.3,433.1" fill="none" stroke="#000" stroke-width="2.00"/>
<polygon points="273.5,407.5 289.5,407.5 289.5,420.6 273.5,420.6" fill="none" stroke="#000" stroke-width="2.10"/>
<polyline points="258.9,413.3 266.2,413.3 266.2,421.3 258.9,421.3" fill="none" stroke="#000" stroke-width="2.00"/>
<polyline points="272.8,399.5 272.8,403.8 278.1,403.8" fill="none" stroke="#000" stroke-width="1.90"/>
<polyline points="286.6,397.3 286.6,402.4 290.2,402.4" fill="none" stroke="#000" stroke-width="1.90"/>
<polyline points="272.8,426.4 290.9,425.7 290.9,432.5" fill="none" stroke="#000" stroke-width="1.90"/>
<polyline points="278.6,426.4 278.6,432.5" fill="none" stroke="#000" stroke-width="1.90"/>
<polyline points="284.4,426.1 284.4,432.5" fill="none" stroke="#000" stroke-width="1.90"/>
<polyline points="305.5,403.8 312.8,403.8" fill="none" stroke="#000" stroke-width="1.90"/>
<polyline points="307.7,404.6 307.7,432.2 311.3,435.4" fill="none" stroke="#000" stroke-width="1.80"/>
<polyline points="312.1,404.6 312.1,424.9 309.4,424.4" fill="none" stroke="#000" stroke-width="1.50"/>
<polyline points="305.5,395.8 312.1,395.8" fill="none" stroke="#000" stroke-width="1.90"/>
<polyline points="308.4,390.0 308.4,395.8" fill="none" stroke="#000" stroke-width="1.50"/>
<polyline points="311.3,435.4 341.9,467.9" fill="none" stroke="#000" stroke-width="1.50"/>
<path d="M312.8,436.9 L316.9,433.0 M315.8,431.9 L317.9,434.1 M317.6,442.0 L321.7,438.1 M320.6,437.0 L322.7,439.2 M322.4,447.1 L326.5,443.2 M325.4,442.1 L327.5,444.3 M327.2,452.2 L331.3,448.3 M330.2,447.2 L332.3,449.4 M332.0,457.2 L336.1,453.4 M335.0,452.3 L337.1,454.5 M336.8,462.3 L340.9,458.5 M339.8,457.4 L341.9,459.6" fill="none" stroke="#000" stroke-width="2.00"/>
<polyline points="252.4,397.3 274.9,392.9 276.4,390.0" fill="none" stroke="#000" stroke-width="1.60"/>
<polyline points="266.9,449.2 272.8,448.2" fill="none" stroke="#000" stroke-width="2.00"/>
<polyline points="269.1,449.0 271.3,461.3 274.9,460.6" fill="none" stroke="#000" stroke-width="2.00"/>
<polyline points="270.6,454.0 274.9,453.3" fill="none" stroke="#000" stroke-width="2.00"/>
<polyline points="271.3,457.7 275.7,457.0" fill="none" stroke="#000" stroke-width="2.00"/>
<polyline points="276.4,454.8 278.6,462.8 283.7,461.3 284.4,465.7 279.3,467.1" fill="none" stroke="#000" stroke-width="2.00"/>
<polyline points="286.6,459.9 290.9,459.1 291.7,465.7 288.0,466.4" fill="none" stroke="#000" stroke-width="2.00"/>
<polyline points="301.1,460.2 298.2,455.5 304.8,452.6" fill="none" stroke="#000" stroke-width="2.00"/>
<polyline points="363.4,410.3 373.9,401.0 400.0,421.5" fill="none" stroke="#000" stroke-width="1.50"/>
<polyline points="363.4,410.3 377.4,420.8 340.6,468.0 340.6,472.7 343.6,475.0 347.6,472.7 392.5,417.3 379.7,407.9" fill="none" stroke="#000" stroke-width="1.50"/>
<polyline points="392.5,417.3 400.0,423.1" fill="none" stroke="#000" stroke-width="1.50"/>
<g fill="#000"><circle cx="382.1" cy="423.1" r="0.85"/><circle cx="378.1" cy="428.3" r="0.85"/><circle cx="374.0" cy="433.4" r="0.85"/><circle cx="370.0" cy="438.6" r="0.85"/><circle cx="366.0" cy="443.8" r="0.85"/><circle cx="362.0" cy="449.0" r="0.85"/><circle cx="358.0" cy="454.1" r="0.85"/><circle cx="354.0" cy="459.3" r="0.85"/><circle cx="350.0" cy="464.5" r="0.85"/><circle cx="346.0" cy="469.7" r="0.85"/></g>
<g fill="#000"><circle cx="384.9" cy="414.9" r="0.85"/><circle cx="389.4" cy="418.4" r="0.85"/><circle cx="393.9" cy="421.9" r="0.85"/><circle cx="398.4" cy="425.4" r="0.85"/></g>
<polyline points="267.4,450.2 272.7,448.9" fill="none" stroke="#000" stroke-width="2.00"/>
<polyline points="268.1,450.2 272.0,464.0 277.9,462.7" fill="none" stroke="#000" stroke-width="2.00"/>
<polyline points="270.1,454.8 274.7,453.5" fill="none" stroke="#000" stroke-width="2.00"/>
<polyline points="270.7,458.8 275.3,457.4" fill="none" stroke="#000" stroke-width="2.00"/>
<polyline points="276.6,455.5 279.2,461.4 274.7,462.7" fill="none" stroke="#000" stroke-width="2.00"/>
<polyline points="279.2,461.4 287.1,458.8 290.4,458.1 292.3,462.7 287.8,464.0" fill="none" stroke="#000" stroke-width="2.00"/>
<polyline points="283.2,460.1 284.5,467.9 281.2,468.6" fill="none" stroke="#000" stroke-width="2.00"/>
<polyline points="274.7,471.2 281.2,469.2" fill="none" stroke="#000" stroke-width="2.00"/>
<polyline points="276.0,475.8 283.2,473.8 281.9,476.4" fill="none" stroke="#000" stroke-width="2.00"/>
<polyline points="278.6,483.0 283.2,496.7" fill="none" stroke="#000" stroke-width="2.00"/>
<polyline points="284.5,481.7 289.1,497.4" fill="none" stroke="#000" stroke-width="2.00"/>
<polyline points="288.4,480.4 292.3,492.2" fill="none" stroke="#000" stroke-width="2.00"/>
<polyline points="295.0,477.1 300.2,496.7" fill="none" stroke="#000" stroke-width="2.00"/>
<polyline points="300.2,483.0 302.2,482.3 307.4,497.4" fill="none" stroke="#000" stroke-width="2.00"/>
<polyline points="277.9,481.0 281.2,480.1" fill="none" stroke="#000" stroke-width="2.00"/>
<polyline points="279.9,488.2 283.2,487.2" fill="none" stroke="#000" stroke-width="2.00"/>
<polyline points="290.4,484.3 294.3,483.3" fill="none" stroke="#000" stroke-width="2.00"/>
<polyline points="285.8,500.0 289.7,499.0" fill="none" stroke="#000" stroke-width="2.00"/>
<polyline points="289.7,501.3 294.3,515.7 300.2,513.8" fill="none" stroke="#000" stroke-width="2.00"/>
<polyline points="290.4,501.3 295.6,500.0" fill="none" stroke="#000" stroke-width="2.00"/>
<polyline points="292.3,505.9 297.6,504.6" fill="none" stroke="#000" stroke-width="2.00"/>
<polyline points="293.6,510.5 298.9,509.2" fill="none" stroke="#000" stroke-width="2.00"/>
<polyline points="299.5,498.7 308.7,496.7 310.0,502.6 312.0,502.0" fill="none" stroke="#000" stroke-width="2.00"/>
<polyline points="300.9,503.3 306.7,502.0" fill="none" stroke="#000" stroke-width="2.00"/>
<polyline points="302.2,507.2 307.4,505.9" fill="none" stroke="#000" stroke-width="2.00"/>
<polyline points="300.2,459.4 298.2,456.1 305.4,452.2 326.4,491.5 317.9,495.4 319.2,502.6 326.4,500.0" fill="none" stroke="#000" stroke-width="2.00"/>
<polyline points="302.2,464.7 307.4,462.0" fill="none" stroke="#000" stroke-width="2.00"/>
<polyline points="304.1,470.5 309.4,467.9" fill="none" stroke="#000" stroke-width="2.00"/>
<polyline points="306.7,475.8 314.6,471.9 316.6,476.4 308.7,479.7" fill="none" stroke="#000" stroke-width="2.00"/>
<polyline points="306.7,475.8 308.7,479.7" fill="none" stroke="#000" stroke-width="2.00"/>
<polyline points="362.3,409.7 374.1,400.0 481.5,485.6 472.3,496.1 493.5,510.0" fill="none" stroke="#000" stroke-width="1.70"/>
<polyline points="362.3,409.7 378.0,419.3" fill="none" stroke="#000" stroke-width="1.40"/>
<polyline points="465.8,475.2 464.5,476.5" fill="none" stroke="#000" stroke-width="1.20"/>
<polyline points="457.4,469.1 410.7,518.4 419.9,526.8 465.2,477.0" fill="none" stroke="#000" stroke-width="1.60"/>
<g fill="#000"><circle cx="459.2" cy="473.3" r="0.85"/><circle cx="454.9" cy="478.2" r="0.85"/><circle cx="450.6" cy="483.1" r="0.85"/><circle cx="446.2" cy="488.0" r="0.85"/><circle cx="441.9" cy="492.9" r="0.85"/><circle cx="437.6" cy="497.8" r="0.85"/><circle cx="433.3" cy="502.7" r="0.85"/><circle cx="429.0" cy="507.6" r="0.85"/><circle cx="424.6" cy="512.5" r="0.85"/><circle cx="420.3" cy="517.4" r="0.85"/><circle cx="416.0" cy="522.3" r="0.85"/></g>
<polyline points="457.4,486.4 466.3,492.7" fill="none" stroke="#000" stroke-width="1.60"/>
<polyline points="493.6,510.1 494.1,509.4 494.7,508.8 495.3,508.3 496.1,507.9 496.8,507.6 497.7,507.4 498.5,507.3 499.3,507.3 500.2,507.5 500.9,507.7 501.7,508.1 502.4,508.6 503.0,509.1 503.6,509.8 504.0,510.5 504.3,511.2 504.6,512.1 504.7,512.9 504.7,513.7 504.6,514.5 504.3,515.4 504.0,516.1 503.6,516.8 503.0,517.5 502.4,518.0 501.7,518.5 500.9,518.9 500.2,519.1 499.3,519.3 498.5,519.3 497.7,519.2 496.8,519.0" fill="none" stroke="#000" stroke-width="1.60"/>
<polyline points="496.7,519.2 485.4,545.1 478.9,558.2 461.0,550.3 426.5,570.0" fill="none" stroke="#000" stroke-width="1.60"/>
<polyline points="485.9,546.4 479.4,557.7 463.1,550.6" fill="none" stroke="#000" stroke-width="3.20"/>
<polyline points="444.8,560.3 446.1,570.0" fill="none" stroke="#000" stroke-width="1.50"/>
<polyline points="419.9,526.8 437.5,513.1 446.6,523.6 429.1,544.6 423.3,538.8" fill="none" stroke="#000" stroke-width="1.60"/>
<g fill="#000"><circle cx="439.6" cy="518.4" r="0.85"/><circle cx="437.2" cy="522.6" r="0.85"/><circle cx="434.8" cy="526.8" r="0.85"/><circle cx="432.5" cy="531.0" r="0.85"/><circle cx="430.1" cy="535.2" r="0.85"/><circle cx="427.8" cy="539.3" r="0.85"/></g>
<g fill="#000"><circle cx="426.5" cy="528.9" r="0.85"/><circle cx="430.4" cy="525.8" r="0.85"/><circle cx="434.3" cy="522.8" r="0.85"/><circle cx="438.3" cy="519.7" r="0.85"/></g>
<polyline points="343.9,475.2 349.2,478.6 408.6,516.3" fill="none" stroke="#000" stroke-width="1.20"/>
<g fill="#000"><circle cx="351.8" cy="477.8" r="0.85"/><circle cx="356.0" cy="480.9" r="0.85"/><circle cx="360.3" cy="484.0" r="0.85"/><circle cx="364.5" cy="487.1" r="0.85"/><circle cx="368.7" cy="490.3" r="0.85"/><circle cx="373.0" cy="493.4" r="0.85"/><circle cx="377.2" cy="496.5" r="0.85"/><circle cx="381.4" cy="499.6" r="0.85"/><circle cx="385.6" cy="502.8" r="0.85"/><circle cx="389.9" cy="505.9" r="0.85"/><circle cx="394.1" cy="509.0" r="0.85"/><circle cx="398.3" cy="512.1" r="0.85"/><circle cx="402.6" cy="515.3" r="0.85"/><circle cx="406.8" cy="518.4" r="0.85"/></g>
<circle cx="364.4" cy="478.3" r="2.6" fill="none" stroke="#000" stroke-width="1.1"/>
<polygon points="401.0,506.0 400.6,507.0 400.3,508.1 400.3,509.2 400.4,510.3 400.7,511.4 401.2,512.4 401.9,513.3 402.7,514.1 403.7,514.7 404.7,515.1 405.8,515.4 406.9,515.4 408.0,515.3 409.1,515.0 410.1,514.5 411.0,513.8 411.8,513.0 412.4,512.0" fill="none" stroke="#000" stroke-width="1.20"/>
<polyline points="348.1,483.7 351.6,492.4 403.5,531.2" fill="none" stroke="#000" stroke-width="2.00" stroke-dasharray="11,4"/>
<path d="M354.6,494.7 L356.6,491.9 M360.5,499.0 L362.5,496.3 M366.4,503.4 L368.4,500.6 M372.2,507.7 L374.3,505.0 M378.1,512.1 L380.2,509.3 M384.0,516.4 L386.1,513.7 M389.9,520.7 L392.0,518.0 M395.8,525.1 L397.8,522.4 M401.7,529.4 L403.7,526.7" fill="none" stroke="#000" stroke-width="2.00"/>
<polyline points="345.5,479.3 349.0,485.4" fill="none" stroke="#000" stroke-width="1.80"/>
<polyline points="408.4,534.3 413.6,543.1 420.6,539.6 418.5,535.7" fill="none" stroke="#000" stroke-width="2.00"/>
<polyline points="406.6,531.7 412.7,537.8" fill="none" stroke="#000" stroke-width="2.00"/>
<polyline points="414.5,536.9 416.7,540.4" fill="none" stroke="#000" stroke-width="2.00"/>
<polygon points="404.2,449.7 423.8,464.7 399.7,494.8 379.8,480.4" fill="none" stroke="#000" stroke-width="1.00"/>
<polygon points="402.4,452.9 420.7,466.5 399.2,492.2 383.0,480.4" fill="none" stroke="#000" stroke-width="0.80" stroke-dasharray="1,1.4"/>
<polyline points="405.5,452.4 421.7,464.4" fill="none" stroke="#000" stroke-width="3.00"/>
<polyline points="398.2,465.5 389.8,477.8 400.8,486.4 408.6,475.2" fill="none" stroke="#000" stroke-width="1.90"/>
<polyline points="408.6,475.2 405.5,472.5" fill="none" stroke="#000" stroke-width="1.90"/>
<polyline points="398.2,465.5 402.9,468.6" fill="none" stroke="#000" stroke-width="1.90"/>
<polyline points="399.0,473.8 404.2,477.8" fill="none" stroke="#000" stroke-width="1.90"/>
<polyline points="403.7,390.0 403.7,416.2" fill="none" stroke="#000" stroke-width="1.50"/>
<polyline points="403.7,407.0 417.3,407.0 430.4,443.7" fill="none" stroke="#000" stroke-width="1.50"/>
<polyline points="296.1,532.5 287.6,540.7 355.7,609.8 410.0,579.5" fill="none" stroke="#000" stroke-width="1.50"/>
<polyline points="363.3,606.0 395.8,586.1" fill="none" stroke="#000" stroke-width="1.20"/>
<polygon points="355.7,605.4 360.4,603.1 363.3,607.9 357.6,610.7" fill="none" stroke="#000" stroke-width="1.40"/>
<polygon points="395.4,582.7 400.2,580.4 402.6,585.2 397.7,587.0" fill="none" stroke="#000" stroke-width="1.40"/>
<polyline points="346.2,522.3 394.5,557.7 390.7,564.3 401.1,581.4" fill="none" stroke="#000" stroke-width="1.40"/>
<polyline points="390.7,564.3 386.0,573.8" fill="none" stroke="#000" stroke-width="1.80"/>
<polyline points="326.4,554.3 362.3,588.0" fill="none" stroke="#000" stroke-width="1.50"/>
<polyline points="316.0,565.3 325.4,555.8" fill="none" stroke="#000" stroke-width="1.50"/>
<polyline points="320.7,548.6 327.3,554.9" fill="none" stroke="#000" stroke-width="1.50"/>
<polyline points="342.4,592.7 351.9,582.3" fill="none" stroke="#000" stroke-width="1.50"/>
<polyline points="364.2,593.7 368.9,588.9" fill="none" stroke="#000" stroke-width="1.50"/>
<polyline points="316.3,565.9 343.4,592.7" fill="none" stroke="#000" stroke-width="1.40"/>
<polyline points="351.0,536.0 391.6,566.2" fill="none" stroke="#000" stroke-width="1.30" stroke-dasharray="10,4"/>
<polyline points="351.0,536.0 344.3,544.5 346.8,546.4" fill="none" stroke="#000" stroke-width="1.90"/>
<polyline points="360.4,543.1 353.8,551.7 356.3,553.6" fill="none" stroke="#000" stroke-width="1.90"/>
<polyline points="369.9,550.5 363.3,559.0 365.7,560.9" fill="none" stroke="#000" stroke-width="1.90"/>
<polyline points="378.8,557.7 372.2,566.2 374.6,568.1" fill="none" stroke="#000" stroke-width="1.90"/>
<polyline points="388.8,565.3 382.2,573.8 384.6,575.7" fill="none" stroke="#000" stroke-width="1.90"/>
<polyline points="346.2,535.0 351.9,532.2" fill="none" stroke="#000" stroke-width="1.80"/>
<polyline points="356.2,609.0 352.5,640.0" fill="none" stroke="#000" stroke-width="1.20"/>
<polyline points="356.6,610.5 351.9,648.2 337.9,697.1 335.6,700.6 325.1,704.1 332.1,715.8" fill="none" stroke="#000" stroke-width="1.30"/>
<polyline points="368.2,753.0 449.7,654.0 452.5,648.7 449.3,648.2 446.2,590.0" fill="none" stroke="#000" stroke-width="1.30"/>
<polygon points="326.2,711.2 344.1,742.6 347.1,741.0 331.0,708.7" fill="#000"/>
<polyline points="344.9,740.9 368.2,753.0" fill="none" stroke="#000" stroke-width="3.80"/>
<polygon points="369.1,754.6 450.2,654.4 449.3,653.7 366.4,752.4" fill="#000"/>
<polyline points="393.8,631.9 376.4,682.7" fill="none" stroke="#000" stroke-width="1.50"/>
<polyline points="402.7,634.3 385.0,685.5" fill="none" stroke="#000" stroke-width="1.50"/>
<polyline points="393.8,631.9 402.7,634.3" fill="none" stroke="#000" stroke-width="1.50"/>
<polyline points="390.9,640.4 399.7,642.8" fill="none" stroke="#000" stroke-width="1.50"/>
<polyline points="388.0,648.8 396.8,651.3" fill="none" stroke="#000" stroke-width="1.50"/>
<polyline points="385.1,657.3 393.8,659.9" fill="none" stroke="#000" stroke-width="1.50"/>
<polyline points="382.2,665.8 390.9,668.4" fill="none" stroke="#000" stroke-width="1.50"/>
<polyline points="379.3,674.2 387.9,676.9" fill="none" stroke="#000" stroke-width="1.50"/>
<polyline points="376.4,682.7 385.0,685.5" fill="none" stroke="#000" stroke-width="1.50"/>
<polyline points="406.0,636.6 388.7,687.4" fill="none" stroke="#000" stroke-width="1.50"/>
<polyline points="415.3,639.4 397.8,690.6" fill="none" stroke="#000" stroke-width="1.50"/>
<polyline points="406.0,636.6 415.3,639.4" fill="none" stroke="#000" stroke-width="1.50"/>
<polyline points="403.1,645.0 412.4,647.9" fill="none" stroke="#000" stroke-width="1.50"/>
<polyline points="400.2,653.5 409.4,656.5" fill="none" stroke="#000" stroke-width="1.50"/>
<polyline points="397.3,662.0 406.5,665.0" fill="none" stroke="#000" stroke-width="1.50"/>
<polyline points="394.5,670.4 403.6,673.5" fill="none" stroke="#000" stroke-width="1.50"/>
<polyline points="391.6,678.9 400.7,682.1" fill="none" stroke="#000" stroke-width="1.50"/>
<polyline points="388.7,687.4 397.8,690.6" fill="none" stroke="#000" stroke-width="1.50"/>
<polyline points="419.5,644.7 403.2,686.0" fill="none" stroke="#000" stroke-width="1.50"/>
<polyline points="428.1,647.5 411.8,689.2" fill="none" stroke="#000" stroke-width="1.50"/>
<polyline points="419.5,644.7 428.1,647.5" fill="none" stroke="#000" stroke-width="1.50"/>
<polyline points="416.2,653.0 424.8,655.9" fill="none" stroke="#000" stroke-width="1.50"/>
<polyline points="412.9,661.2 421.6,664.2" fill="none" stroke="#000" stroke-width="1.50"/>
<polyline points="409.7,669.5 418.3,672.5" fill="none" stroke="#000" stroke-width="1.50"/>
<polyline points="406.4,677.7 415.0,680.9" fill="none" stroke="#000" stroke-width="1.50"/>
<polyline points="403.2,686.0 411.8,689.2" fill="none" stroke="#000" stroke-width="1.50"/>
<polyline points="354.3,658.7 341.4,696.0" fill="none" stroke="#000" stroke-width="1.50"/>
<path d="M354.3,658.7 L349.0,657.0 M352.2,664.9 L347.0,663.2 M350.1,671.1 L344.9,669.4 M348.1,677.3 L342.9,675.6 M346.0,683.5 L340.8,681.8 M344.0,689.8 L338.7,688.0 M341.9,696.0 L336.7,694.2" fill="none" stroke="#000" stroke-width="2.10"/>
<polyline points="364.0,653.3 351.9,697.1" fill="none" stroke="#000" stroke-width="1.50"/>
<path d="M364.0,653.3 L368.9,654.7 M362.3,659.6 L367.1,660.9 M360.6,665.9 L365.4,667.2 M358.8,672.1 L363.7,673.4 M357.1,678.4 L361.9,679.7 M355.4,684.6 L360.2,686.0 M353.7,690.9 L358.5,692.2 M351.9,697.1 L356.7,698.5" fill="none" stroke="#000" stroke-width="2.10"/>
<polyline points="376.4,656.4 364.7,698.3" fill="none" stroke="#000" stroke-width="1.50"/>
<path d="M376.4,656.4 L371.1,655.0 M374.8,662.4 L369.5,660.9 M373.2,668.4 L367.9,666.9 M371.6,674.3 L366.3,672.9 M370.0,680.3 L364.7,678.9 M368.4,686.3 L363.1,684.9 M366.8,692.3 L361.5,690.9 M365.2,698.3 L359.9,696.9" fill="none" stroke="#000" stroke-width="2.10"/>
<polyline points="364.0,653.3 371.0,655.7 376.4,656.4" fill="none" stroke="#000" stroke-width="1.60"/>
<polyline points="351.9,697.1 365.2,698.8" fill="none" stroke="#000" stroke-width="1.60"/>
<polyline points="341.4,696.0 347.3,697.1" fill="none" stroke="#000" stroke-width="1.60"/>
<polyline points="350.1,658.0 355.4,659.2" fill="none" stroke="#000" stroke-width="1.60"/>
<polyline points="325.1,704.1 336.1,700.6 339.1,709.9 332.1,712.3" fill="none" stroke="#000" stroke-width="1.90"/>
<polyline points="325.1,704.1 332.1,715.8" fill="none" stroke="#000" stroke-width="1.90"/>
<polyline points="337.9,708.8 360.1,740.9" fill="none" stroke="#000" stroke-width="1.90"/>
<polyline points="333.3,716.9 344.9,713.0" fill="none" stroke="#000" stroke-width="2.00"/>
<polyline points="336.6,721.8 348.0,717.9" fill="none" stroke="#000" stroke-width="2.00"/>
<polyline points="339.8,726.7 351.0,722.8" fill="none" stroke="#000" stroke-width="2.00"/>
<polyline points="343.1,731.6 354.0,727.6" fill="none" stroke="#000" stroke-width="2.00"/>
<polyline points="346.3,736.5 357.0,732.5" fill="none" stroke="#000" stroke-width="2.00"/>
<polyline points="349.6,741.4 360.1,737.4" fill="none" stroke="#000" stroke-width="2.00"/>
<polyline points="432.8,251.8 421.1,281.7 431.3,286.0 442.2,255.5" fill="none" stroke="#000" stroke-width="1.60"/>
<polyline points="447.3,289.4 447.3,278.0 466.2,277.3 471.3,276.6" fill="none" stroke="#000" stroke-width="1.60"/>
<polyline points="466.2,277.3 467.0,289.7 455.3,289.7" fill="none" stroke="#000" stroke-width="1.60"/>
<polyline points="449.9,284.6 454.1,284.6" fill="none" stroke="#000" stroke-width="2.20"/>
<polyline points="450.9,284.6 450.9,289.0 454.6,289.0" fill="none" stroke="#000" stroke-width="1.80"/>
<polyline points="466.7,285.0 468.7,285.6" fill="none" stroke="#000" stroke-width="1.80"/>
<polyline points="467.0,291.1 471.3,291.9" fill="none" stroke="#000" stroke-width="1.80"/>
<polyline points="476.4,286.0 476.4,292.3 472.8,292.3" fill="none" stroke="#000" stroke-width="1.50"/>
<polyline points="476.4,285.3 483.7,285.3" fill="none" stroke="#000" stroke-width="1.30"/>
<polyline points="406.6,270.0 410.9,283.1 411.6,298.4" fill="none" stroke="#000" stroke-width="1.30"/>
<polyline points="374.8,160.1 366.9,156.2 360.4,165.6 367.6,170.9" fill="none" stroke="#000" stroke-width="1.50"/>
<polyline points="360.4,165.6 356.4,164.1 349.2,173.9 359.7,180.4 366.3,170.9" fill="none" stroke="#000" stroke-width="1.50"/>
<polyline points="353.2,178.5 345.3,187.6 351.9,193.1" fill="none" stroke="#000" stroke-width="1.50"/>
<polyline points="393.1,137.2 398.4,130.0" fill="none" stroke="#000" stroke-width="1.40"/>
<polyline points="379.3,596.0 400.3,584.2 444.8,559.3" fill="none" stroke="#000" stroke-width="2.00"/>
<polyline points="418.6,573.7 444.8,559.3 461.0,550.1" fill="none" stroke="#000" stroke-width="2.70"/>
<polyline points="459.2,550.7 478.1,558.5 484.6,546.2" fill="none" stroke="#000" stroke-width="3.40"/>
<polyline points="444.6,559.0 446.3,591.0" fill="none" stroke="#000" stroke-width="1.30"/>
<polyline points="299.0,528.8 310.0,512.5 330.4,504.9 345.6,520.0 343.2,524.1" fill="none" stroke="#000" stroke-width="1.50"/>
<polyline points="331.6,499.7 351.4,517.7 348.5,520.6 354.9,525.5" fill="none" stroke="#000" stroke-width="1.40"/>
<polyline points="290.2,540.4 296.6,534.6" fill="none" stroke="#000" stroke-width="2.00"/>
<polyline points="293.2,543.3 300.1,537.5" fill="none" stroke="#000" stroke-width="2.00"/>
<polyline points="296.6,546.2 302.5,541.0" fill="none" stroke="#000" stroke-width="2.00"/>
<polyline points="299.6,549.7 306.0,543.9" fill="none" stroke="#000" stroke-width="2.00"/>
<polyline points="303.0,552.6 308.3,548.0" fill="none" stroke="#000" stroke-width="2.00"/>
<polyline points="306.5,555.6 310.0,552.6" fill="none" stroke="#000" stroke-width="2.00"/>
<polyline points="306.0,519.5 310.0,524.1 304.2,528.8" fill="none" stroke="#000" stroke-width="2.00"/>
<polyline points="317.6,517.1 312.9,518.9 319.9,532.3 324.6,529.9" fill="none" stroke="#000" stroke-width="2.00"/>
<polyline points="315.9,524.1 322.3,521.2 325.8,527.0" fill="none" stroke="#000" stroke-width="2.00"/>
<polyline points="317.6,512.5 323.4,518.3 327.5,516.5" fill="none" stroke="#000" stroke-width="2.00"/>
<polyline points="321.1,511.3 325.2,509.6 331.6,517.1 328.1,520.0" fill="none" stroke="#000" stroke-width="2.00"/>
<polyline points="323.4,514.2 326.3,512.5" fill="none" stroke="#000" stroke-width="2.00"/>
<polyline points="332.7,528.2 336.2,525.3 339.7,529.9 343.2,527.6" fill="none" stroke="#000" stroke-width="2.00"/>
<polyline points="336.2,525.3 338.6,522.9" fill="none" stroke="#000" stroke-width="2.00"/>
<polyline points="308.3,533.4 314.1,541.0 317.6,538.7" fill="none" stroke="#000" stroke-width="2.00"/>
<polyline points="305.4,535.8 310.0,542.7" fill="none" stroke="#000" stroke-width="2.00"/>
<polyline points="314.1,541.0 311.8,543.9" fill="none" stroke="#000" stroke-width="2.00"/>
<polyline points="325.2,545.1 328.7,550.9" fill="none" stroke="#000" stroke-width="2.00"/>
<polyline points="327.5,543.3 331.0,549.1" fill="none" stroke="#000" stroke-width="2.00"/>
<polyline points="329.8,541.6 333.3,546.8" fill="none" stroke="#000" stroke-width="2.00"/>
<polyline points="336.2,537.5 339.7,541.0" fill="none" stroke="#000" stroke-width="2.00"/>
<polyline points="343.8,543.9 351.4,534.6 354.9,537.5" fill="none" stroke="#000" stroke-width="2.00"/>
<polyline points="343.8,543.9 346.7,546.2" fill="none" stroke="#000" stroke-width="2.00"/>
<polyline points="351.4,548.6 357.2,541.6 360.7,544.5" fill="none" stroke="#000" stroke-width="2.00"/>
<polyline points="351.4,548.6 357.2,554.4" fill="none" stroke="#000" stroke-width="2.00"/>
<polyline points="345.0,529.9 348.5,532.3 346.7,534.6" fill="none" stroke="#000" stroke-width="2.00"/>
<polyline points="286.2,501.4 297.8,496.7" fill="none" stroke="#000" stroke-width="2.00"/>
<polyline points="292.0,506.6 297.2,515.4 300.7,513.6" fill="none" stroke="#000" stroke-width="2.00"/>
<polyline points="292.0,506.6 296.6,504.9" fill="none" stroke="#000" stroke-width="2.00"/>
<polyline points="293.7,510.1 298.4,508.4" fill="none" stroke="#000" stroke-width="2.00"/>
<polyline points="300.1,503.7 310.0,500.2 312.4,503.7" fill="none" stroke="#000" stroke-width="2.00"/>
<polyline points="302.5,506.6 304.2,510.7" fill="none" stroke="#000" stroke-width="2.00"/>
<polyline points="305.4,505.5 306.5,508.4" fill="none" stroke="#000" stroke-width="2.00"/>
<polyline points="307.7,504.3 308.9,507.2" fill="none" stroke="#000" stroke-width="2.00"/>
<polyline points="317.6,497.3 319.4,502.0 328.1,499.7" fill="none" stroke="#000" stroke-width="2.00"/>
<polyline points="314.1,550.9 337.4,534.0" fill="none" stroke="#000" stroke-width="1.60"/>
<polyline points="319.9,549.7 325.8,555.6 318.8,565.0" fill="none" stroke="#000" stroke-width="1.50"/>
<polyline points="304.6,368.6 315.2,366.3" fill="none" stroke="#000" stroke-width="2.00"/>
<polyline points="254.0,268.8 261.3,269.8 267.8,273.5 272.9,280.0 275.4,285.4" fill="none" stroke="#000" stroke-width="1.30"/>
<polyline points="256.9,270.0 264.9,272.9 270.8,278.1 273.7,285.1" fill="none" stroke="#000" stroke-width="1.00"/>
<polyline points="291.0,298.1 290.6,288.1 275.8,288.1 275.8,299.9 281.4,299.9 281.9,307.8 285.8,308.2" fill="none" stroke="#000" stroke-width="2.00"/>
<polyline points="285.8,299.9 291.0,298.6 291.9,303.8 288.0,305.1" fill="none" stroke="#000" stroke-width="2.00"/>
<polyline points="286.2,299.9 302.4,295.5" fill="none" stroke="#000" stroke-width="1.50"/>
<polyline points="297.2,302.5 301.5,302.5 302.0,305.1 307.2,305.1 307.2,309.5 302.4,309.5" fill="none" stroke="#000" stroke-width="2.00"/>
<polygon points="287.1,312.6 295.4,311.2 295.9,316.9 287.6,318.2" fill="#000" stroke="#000" stroke-width="1.50"/>
<polyline points="285.8,307.8 286.7,309.9 288.4,312.6" fill="none" stroke="#000" stroke-width="1.60"/>
<polyline points="250.0,277.6 255.2,277.6 255.2,284.6 260.0,286.4" fill="none" stroke="#000" stroke-width="2.00"/>
<polyline points="259.6,290.7 259.6,295.1 263.1,295.5 263.1,301.2 259.6,301.2 259.2,305.6 253.9,305.6" fill="none" stroke="#000" stroke-width="2.00"/>
<polyline points="250.0,293.8 253.9,293.8" fill="none" stroke="#000" stroke-width="2.00"/>
<polyline points="253.5,298.1 253.5,302.9 250.0,303.4" fill="none" stroke="#000" stroke-width="2.00"/>
</g>
</svg>
</body></html>
